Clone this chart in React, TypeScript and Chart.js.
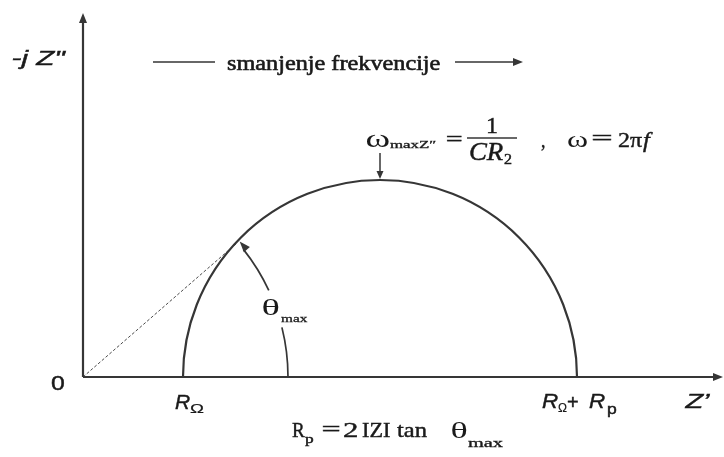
import React, { useEffect, useRef } from "react";
import { Chart, registerables } from "chart.js";

Chart.register(...registerables);

// ---- data (impedance units, 1 unit = scale step) ----
const R_OMEGA = 1.0; // high-frequency intercept
const R_P = 3.94; // polarisation resistance
const X_RANGE = [0, 6.4];
const Y_RANGE = [0, 3.64];
const TANGENT_LINE_X = [0, 1.54];
const TANGENT_LINE_Y = [0, 1.34];
const THETA_ARC_RADIUS = 2.05;
const THETA_LABEL_GAP_DEG = [14, 25];

const SERIF = '"Liberation Serif", "Times New Roman", serif';
const SANS = '"Liberation Sans", Arial, sans-serif';
const LINE = "#363636";
const TEXT = "#1a1a1a";

type Ctx = CanvasRenderingContext2D;

function arrowHead(ctx: Ctx, x: number, y: number, ang: number, len = 10, half = 4) {
  ctx.beginPath();
  ctx.moveTo(x, y);
  ctx.lineTo(x - len * Math.cos(ang) + half * Math.sin(ang), y - len * Math.sin(ang) - half * Math.cos(ang));
  ctx.lineTo(x - len * Math.cos(ang) - half * Math.sin(ang), y - len * Math.sin(ang) + half * Math.cos(ang));
  ctx.closePath();
  ctx.fill();
}

// draws text with its ink starting at x, optionally stretched to a target ink width
function fitText(ctx: Ctx, s: string, x: number, y: number, font: string, target?: number, weight = 0.45) {
  ctx.save();
  ctx.font = font;
  ctx.textAlign = "left";
  ctx.textBaseline = "alphabetic";
  const m = ctx.measureText(s);
  const ink = m.actualBoundingBoxLeft + m.actualBoundingBoxRight;
  let sx = 1;
  if (target && ink > 0) sx = Math.max(0.6, Math.min(2.2, target / ink));
  ctx.translate(x, y);
  ctx.scale(sx, 1);
  ctx.fillText(s, m.actualBoundingBoxLeft, 0);
  if (weight > 0) {
    ctx.lineWidth = weight;
    ctx.strokeStyle = ctx.fillStyle as string;
    ctx.strokeText(s, m.actualBoundingBoxLeft, 0);
  }
  ctx.restore();
}

const diagramPlugin = {
  id: "nyquistDiagram",
  afterDatasetsDraw(chart: any) {
    const ctx: Ctx = chart.ctx;
    const xs = chart.scales.x;
    const ys = chart.scales.y;
    const X = (v: number) => xs.getPixelForValue(v);
    const Y = (v: number) => ys.getPixelForValue(v);
    const ox = X(0);
    const oy = Y(0);
    ctx.save();
    ctx.strokeStyle = LINE;
    ctx.fillStyle = LINE;
    ctx.lineCap = "butt";

    // axes
    ctx.lineWidth = 2.2;
    const xEnd = X(X_RANGE[1]);
    const yEnd = Y(Y_RANGE[1]);
    ctx.beginPath();
    ctx.moveTo(ox, oy);
    ctx.lineTo(xEnd - 8, oy);
    ctx.moveTo(ox, oy);
    ctx.lineTo(ox, yEnd + 8);
    ctx.stroke();
    arrowHead(ctx, xEnd, oy, 0, 10, 4);
    arrowHead(ctx, ox, yEnd, -Math.PI / 2, 10, 4);

    // semicircle
    const cx = X(R_OMEGA + R_P / 2);
    const r = X(R_OMEGA + R_P) - cx;
    ctx.lineWidth = 2.2;
    ctx.beginPath();
    ctx.arc(cx, oy, r, Math.PI, 2 * Math.PI);
    ctx.stroke();

    // theta arc
    const tx = X(TANGENT_LINE_X[1]);
    const ty = Y(TANGENT_LINE_Y[1]);
    const th = Math.atan2(oy - ty, tx - ox);
    const ar = X(THETA_ARC_RADIUS) - ox;
    const g1 = (THETA_LABEL_GAP_DEG[0] * Math.PI) / 180;
    const g2 = (THETA_LABEL_GAP_DEG[1] * Math.PI) / 180;
    ctx.lineWidth = 1.7;
    ctx.beginPath();
    ctx.arc(ox, oy, ar, 0, -g1, true);
    ctx.stroke();
    const stop = th - 9 / ar;
    ctx.beginPath();
    ctx.arc(ox, oy, ar, -g2, -stop, true);
    ctx.stroke();
    const tipX = ox + ar * Math.cos(th);
    const tipY = oy - ar * Math.sin(th);
    const dirAng = Math.atan2(-Math.cos(th), -Math.sin(th));
    arrowHead(ctx, tipX + 2, tipY - 1, dirAng, 11, 4);

    // arrow to apex
    ctx.lineWidth = 1.5;
    ctx.beginPath();
    ctx.moveTo(cx, 153);
    ctx.lineTo(cx, oy - r - 8);
    ctx.stroke();
    arrowHead(ctx, cx, oy - r - 1, Math.PI / 2, 8, 3.5);

    // frequency arrow
    ctx.lineWidth = 1.3;
    ctx.beginPath();
    ctx.moveTo(153, 62);
    ctx.lineTo(215, 62);
    ctx.moveTo(455, 62);
    ctx.lineTo(514, 62);
    ctx.stroke();
    arrowHead(ctx, 523, 62, 0, 10, 4);

    // fraction bar
    ctx.lineWidth = 1.4;
    ctx.beginPath();
    ctx.moveTo(467, 138);
    ctx.lineTo(517, 138);
    ctx.stroke();

    // ---- texts ----
    ctx.fillStyle = TEXT;
    // axis labels (sans)
    fitText(ctx, "-j Z\"", 13, 65, `italic 21px ${SANS}`, 54);
    fitText(ctx, "0", 51, 390, `21px ${SANS}`, 13);
    fitText(ctx, "R", 175, 409, `italic 21px ${SANS}`, 15);
    fitText(ctx, "\u03A9", 190, 413, `12px ${SANS}`, 14, 0.2);
    fitText(ctx, "R", 542, 408, `italic 21px ${SANS}`, 16);
    fitText(ctx, "\u03A9", 558, 412, `12px ${SANS}`, 9, 0.2);
    fitText(ctx, "+", 567, 409, `20px ${SANS}`, 11);
    fitText(ctx, "R", 589, 408, `italic 21px ${SANS}`, 16);
    fitText(ctx, "p", 607, 414, `14px ${SANS}`, 10);
    fitText(ctx, "Z\u2019", 684, 408, `italic 21px ${SANS}`, 26);

    // frequency text
    fitText(ctx, "smanjenje frekvencije", 227, 70, `21px ${SERIF}`, 213, 0.6);

    // omega formula
    fitText(ctx, "\u03C9", 367, 147, `26px ${SERIF}`, 23, 0);
    fitText(ctx, "maxZ\u2033", 390, 148, `10px ${SERIF}`, 46, 0.3);
    fitText(ctx, "=", 447, 146, `22px ${SERIF}`, 15);
    ctx.save();
    ctx.font = `24px ${SERIF}`;
    ctx.textAlign = "center";
    ctx.fillText("1", 492, 133);
    ctx.lineWidth = 0.45;
    ctx.strokeStyle = TEXT;
    ctx.strokeText("1", 492, 133);
    ctx.restore();
    fitText(ctx, "CR", 470, 160, `italic 25px ${SERIF}`, 33);
    fitText(ctx, "2", 504, 164, `14px ${SERIF}`, 8);
    fitText(ctx, ",", 541, 147, `22px ${SERIF}`, 4);
    fitText(ctx, "\u03C9", 567, 147, `24px ${SERIF}`, 20, 0);
    fitText(ctx, "=", 593, 145, `22px ${SERIF}`, 19);
    fitText(ctx, "2\u03C0", 618, 147, `22px ${SERIF}`, 24);
    fitText(ctx, "f", 643, 147, `italic 22px ${SERIF}`, 10);

    // theta max label
    fitText(ctx, "\u03B8", 263, 315, `24px ${SERIF}`, 16, 0);
    fitText(ctx, "max", 281, 322, `11px ${SERIF}`, 27, 0.3);

    // bottom formula
    fitText(ctx, "R", 292, 437, `22px ${SERIF}`, 13);
    fitText(ctx, "p", 305, 443, `13px ${SERIF}`, 8);
    fitText(ctx, "=", 323, 436, `22px ${SERIF}`, 17);
    fitText(ctx, "2", 343, 437, `22px ${SERIF}`, 14);
    fitText(ctx, "IZI", 362, 437, `22px ${SERIF}`, 28);
    fitText(ctx, "tan", 397, 437, `22px ${SERIF}`, 30);
    fitText(ctx, "\u03B8", 452, 438, `24px ${SERIF}`, 15, 0);
    fitText(ctx, "max", 468, 447, `12px ${SERIF}`, 35, 0.3);

    ctx.restore();
  },
};

export default function App() {
  const ref = useRef<HTMLCanvasElement>(null);
  useEffect(() => {
    const canvas = ref.current!;
    const tangentData = TANGENT_LINE_X.map((x, i) => ({ x, y: TANGENT_LINE_Y[i] }));
    const chart = new Chart(canvas, {
      type: "scatter",
      data: {
        datasets: [
          {
            data: tangentData,
            showLine: true,
            borderColor: "#4a4a4a",
            borderWidth: 1,
            borderDash: [3, 2],
            pointRadius: 0,
            fill: false,
          } as any,
        ],
      },
      options: {
        animation: false,
        responsive: false,
        maintainAspectRatio: false,
        layout: { padding: { left: 83, right: 1, top: 13, bottom: 80 } },
        scales: {
          x: { type: "linear", min: X_RANGE[0], max: X_RANGE[1], display: false },
          y: { type: "linear", min: Y_RANGE[0], max: Y_RANGE[1], display: false },
        },
        plugins: { legend: { display: false }, tooltip: { enabled: false } },
      },
      plugins: [diagramPlugin],
    });
    return () => chart.destroy();
  }, []);
  return (
    <div style={{ position: "absolute", left: 0, top: 0, width: 724, height: 457, background: "#fff" }}>
      <canvas ref={ref} width={724} height={457} style={{ display: "block" }} />
    </div>
  );
}
